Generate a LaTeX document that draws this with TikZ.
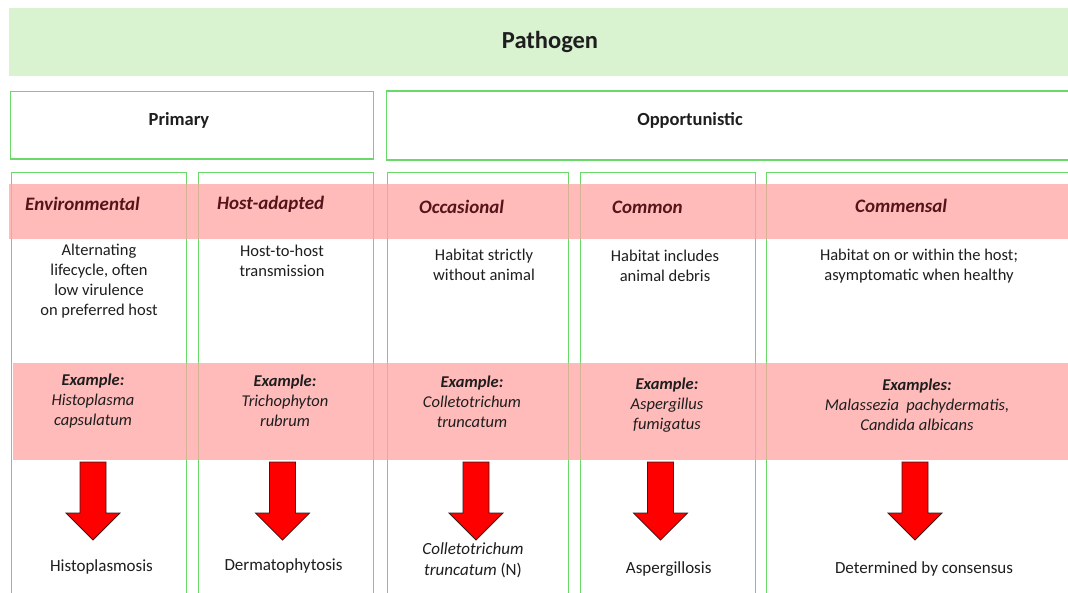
\documentclass[tikz,border=0pt]{standalone}
\usepackage{fontspec}
\setmainfont{Carlito}
\definecolor{gfill}{RGB}{217,242,208}
\definecolor{gline}{RGB}{105,218,105}
\definecolor{pinkb}{RGB}{255,164,164}
\definecolor{hdr}{RGB}{85,20,25}
\definecolor{txt}{RGB}{30,30,30}
\definecolor{arrowred}{RGB}{255,0,0}
\definecolor{arrowline}{RGB}{60,25,25}
\tikzset{
  greenbox/.style={draw=gline, line width=1.3pt, fill=white, anchor=north west, inner sep=0pt},
  colbox/.style={draw=gline, line width=1.3pt, anchor=north west, inner sep=0pt, minimum height=440pt},
  band/.style={fill=pinkb, fill opacity=0.75, anchor=north west, inner sep=0pt, minimum width=1070pt},
  toptxt/.style={font=\fontsize{24.5}{28}\selectfont\bfseries, text=txt, inner sep=0pt},
  cattxt/.style={font=\fontsize{18.5}{22}\selectfont\bfseries, text=txt, inner sep=0pt},
  hdrtxt/.style={font=\fontsize{19}{22}\selectfont\bfseries\itshape, text=hdr, inner sep=0pt, anchor=west},
  desctxt/.style={font=\fontsize{16.5}{20}\selectfont, text=txt, align=center, inner sep=0pt},
  extxt/.style={font=\fontsize{16.5}{20}\selectfont\itshape, text=txt, align=center, inner sep=0pt},
  outtxt/.style={font=\fontsize{17}{21}\selectfont, text=txt, align=center, inner sep=0pt},
  downarrow/.pic={\draw[fill=arrowred, draw=arrowline, line width=0.8pt, line join=miter]
     (-13,0) -- (13,0) -- (13,51) -- (27,51) -- (0,78) -- (-27,51) -- (-13,51) -- cycle;}
}
\begin{document}
\begin{tikzpicture}[x=1pt,y=-1pt]
\useasboundingbox (0,0) rectangle (1068,593);
\clip (0,0) rectangle (1068,593);
\fill[white] (0,0) rectangle (1068,593);

% top level
\node[fill=gfill, anchor=north west, inner sep=0pt, minimum width=1070pt, minimum height=67.5pt] (pathbox) at (9,8) {};
\node[toptxt] (pathtxt) at (550,41.5) {Pathogen};

% second level
\node[greenbox, minimum width=363.5pt, minimum height=67.5pt] (primbox) at (9.5,91) {};
\node[cattxt] (primtxt) at (179,120) {Primary};
\node[greenbox, minimum width=700pt, minimum height=69pt] (oppbox) at (385.7,90.5) {};
\node[cattxt] (opptxt) at (690,120) {Opportunistic};

% columns
\node[colbox, minimum width=175.3pt] (colenv) at (10.7,172) {};
\node[colbox, minimum width=175pt] (colhost) at (198,172) {};
\node[colbox, minimum width=181pt] (colocc) at (386.5,172) {};
\node[colbox, minimum width=175pt] (colcom) at (580,172) {};
\node[colbox, minimum width=320pt] (colmen) at (765.5,172) {};

% pink bands
\node[band, minimum height=55pt] (band1) at (9,184) {};
\node[band, minimum height=97pt] (band2) at (12.7,363) {};

% headers
\node[hdrtxt] (henv) at (25,204) {Environmental};
\node[hdrtxt] (hhost) at (217,204) {Host-adapted};
\node[hdrtxt] (hocc) at (419,206.5) {Occasional};
\node[hdrtxt] (hcom) at (612,207.5) {Common};
\node[hdrtxt] (hmen) at (855,206) {Commensal};

% descriptions
\node[desctxt] (denv) at (99,281) {Alternating\\lifecycle, often\\low virulence\\on preferred host};
\node[desctxt] (dhost) at (282,261) {Host-to-host\\transmission};
\node[desctxt] (docc) at (484,264.5) {Habitat strictly\\without animal};
\node[desctxt] (dcom) at (665,266) {Habitat includes\\animal debris};
\node[desctxt] (dmen) at (919,266) {Habitat on or within the host;\\asymptomatic when healthy};

% examples
\node[extxt] (eenv) at (93,401) {\textbf{Example:}\\Histoplasma\\capsulatum};
\node[extxt] (ehost) at (285,401) {\textbf{Example:}\\Trichophyton\\rubrum};
\node[extxt] (eocc) at (472,402) {\textbf{Example:}\\Colletotrichum\\truncatum};
\node[extxt] (ecom) at (667,405) {\textbf{Example:}\\Aspergillus\\fumigatus};
\node[extxt] (emen) at (917,405) {\textbf{Examples:}\\Malassezia\ \ pachydermatis,\\Candida albicans};

% arrows
\pic (aenv) at (93,462) {downarrow};
\pic (ahost) at (282.5,462) {downarrow};
\pic (aocc) at (476,462) {downarrow};
\pic (acom) at (660.5,462) {downarrow};
\pic (amen) at (915,462) {downarrow};

% outcomes
\node[outtxt] (oenv) at (101.5,566.5) {Histoplasmosis};
\node[outtxt] (ohost) at (283.5,566) {Dermatophytosis};
\node[outtxt] (oocc) at (473,560) {\textit{Colletotrichum}\\\textit{truncatum} (N)};
\node[outtxt] (ocom) at (668.7,569) {Aspergillosis};
\node[outtxt] (omen) at (924,569) {Determined by consensus};
\end{tikzpicture}
\end{document}
